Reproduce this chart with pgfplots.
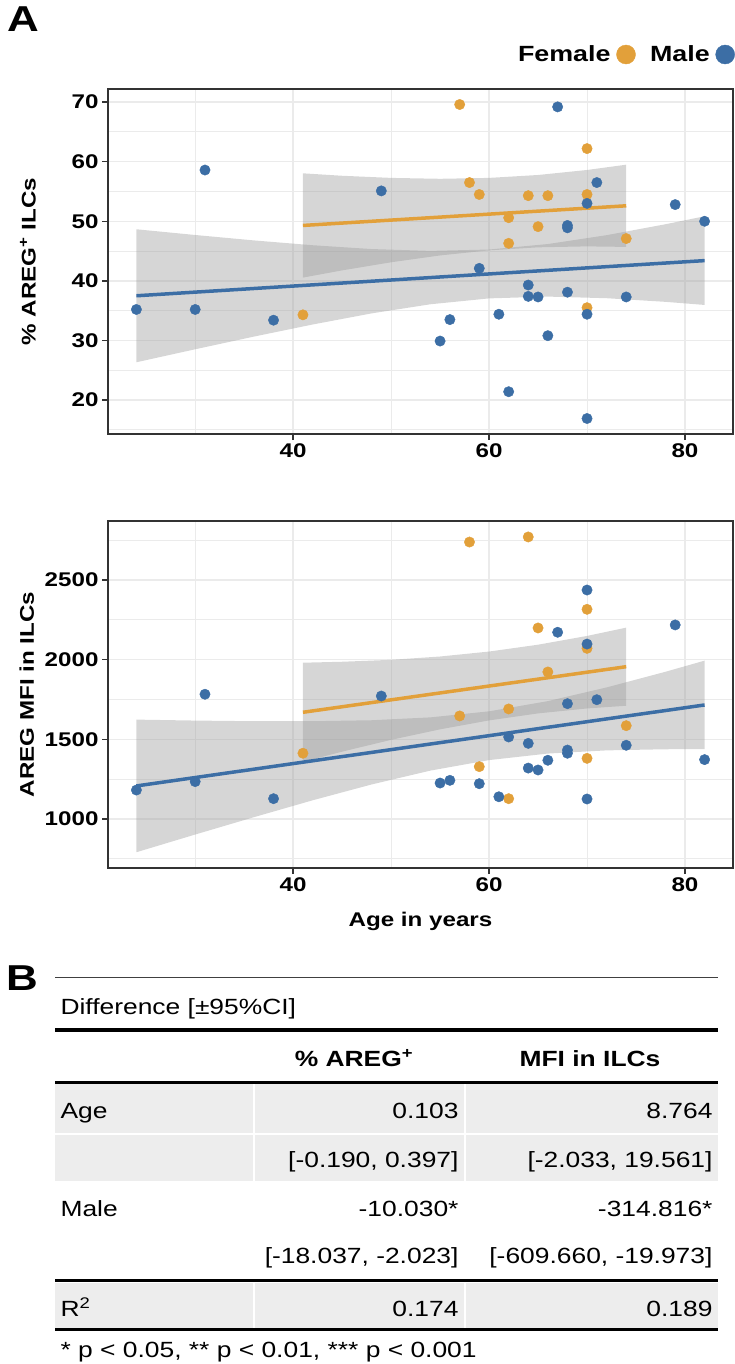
\documentclass[border=0pt]{standalone}
\usepackage{fontspec}
\setmainfont{Liberation Sans}[FakeStretch=1.2]
\newfontfamily\plotfont{Liberation Sans}[FakeStretch=1.22]
\usepackage{pgfplots}
\pgfplotsset{compat=1.18}
\definecolor{fem}{RGB}{226,160,58}
\definecolor{mal}{RGB}{60,110,165}
\definecolor{rib}{HTML}{999999}
\definecolor{gridc}{HTML}{EBEBEB}
\definecolor{framec}{HTML}{333333}
\definecolor{tgrey}{HTML}{EDEDED}
\newcommand{\pf}{\plotfont\bfseries\fontsize{19.8bp}{22bp}\selectfont}
\newcommand{\tf}{\fontsize{22bp}{26bp}\selectfont}

\pgfplotsset{
 panel/.style={
  width=625bp, scale only axis,
  xmin=21.1, xmax=84.9,
  xtick={40,60,80}, minor xtick={30,50,70},
  grid=both,
  major grid style={draw=gridc, line width=1.4bp},
  minor grid style={draw=gridc, line width=0.9bp},
  axis line style={draw=framec, line width=1.6bp},
  tick align=outside, tick pos=left,
  major tick length=6bp, minor tick length=0bp,
  tick style={draw=framec, line width=1.4bp},
  tick label style={font=\pf},
  label style={font=\pf},
  /pgf/number format/assume math mode=true,
  /pgf/number format/1000 sep={},
 },
 pts/.style={only marks, mark=*, mark size=5.2bp, color=#1, mark options={draw=none, fill=#1},
   legend image code/.code={\path[draw=none, fill=none] (0bp,0bp) -- (16bp,0bp); \draw[##1, mark size=9.5bp] plot coordinates {(13bp,0bp)};}},
 ribb/.style={draw=none, fill=rib, fill opacity=0.4, forget plot},
 fitl/.style={draw=#1, line width=3.5bp, no marks, forget plot},
}

\begin{document}
\begin{tikzpicture}
\path[use as bounding box] (0,0) rectangle (735bp,-1364bp);

\node[font=\plotfont\bfseries\fontsize{36bp}{40bp}\selectfont] at (23bp,-19bp) {A};

% ---------- top panel ----------
\begin{axis}[panel, at={(108bp,-434bp)}, anchor=south west, height=345bp,
  ymin=14.3, ymax=72.2, ytick={20,30,...,70}, minor ytick={15,25,...,65},
  ylabel={\% AREG\textsuperscript{+} ILCs},
  ylabel style={at={(axis description cs:-0.128,0.5)}, anchor=center},
  legend plot pos=right,
  legend style={at={(axis description cs:1.003,1.10)}, anchor=east, draw=none, fill=none,
    inner sep=0pt, font=\plotfont\bfseries\fontsize{22bp}{26bp}\selectfont, legend columns=2,
    /tikz/every even column/.append style={column sep=12bp}, nodes={inner sep=2.5bp}},
]
\addplot[pts=fem] coordinates {(41,34.3) (57,69.6) (58,56.5) (59,54.5) (62,50.6) (62,46.3) (64,54.3) (65,49.1) (66,54.3) (70,62.2) (70,54.5) (70,35.5) (74,47.1)};
\addlegendentry{Female}
\addplot[pts=mal] coordinates {(24,35.2) (30,35.2) (31,58.6) (38,33.4) (49,55.1) (55,29.9) (56,33.5) (59,42.1) (61,34.4) (62,21.4) (64,39.3) (64,37.4) (65,37.3) (66,30.8) (67,69.2) (68,49.3) (68,48.9) (68,38.1) (70,53.0) (70,34.4) (70,16.9) (71,56.5) (74,37.3) (79,52.8) (82,50.0)};
\addlegendentry{Male}
\addplot[ribb] coordinates {(41,58.05) (45,57.64) (50,57.28) (55,57.13) (60,57.28) (65,57.77) (70,58.61) (74,59.50) (74,45.70) (70,45.79) (65,45.63) (60,45.12) (55,44.27) (50,43.12) (45,41.76) (41,40.55)} -- cycle;
\addplot[fitl=fem] coordinates {(41,49.3) (74,52.6)};
\addplot[ribb] coordinates {(24,48.66) (30,47.70) (36,46.79) (42,45.98) (48,45.34) (54,45.03) (60,45.26) (66,46.18) (72,47.67) (78,49.50) (82,50.84) (82,35.96) (78,36.48) (72,37.09) (66,37.36) (60,37.06) (54,36.07) (48,34.54) (42,32.68) (36,30.65) (30,28.52) (24,26.34)} -- cycle;
\addplot[fitl=mal] coordinates {(24,37.5) (82,43.4)};
\end{axis}

% ---------- bottom panel ----------
\begin{axis}[panel, at={(108bp,-868bp)}, anchor=south west, height=347bp,
  ymin=693, ymax=2870, ytick={1000,1500,2000,2500}, minor ytick={750,1250,1750,2250,2750},
  xlabel={Age in years},
  xlabel style={at={(axis description cs:0.5,-0.155)}, anchor=center},
  ylabel={AREG MFI in ILCs},
  ylabel style={at={(axis description cs:-0.13,0.5)}, anchor=center},
]
\addplot[pts=fem] coordinates {(41,1413) (57,1647) (58,2738) (59,1329) (62,1691) (62,1128) (64,2770) (65,2199) (66,1923) (70,2316) (70,2071) (70,1381) (74,1586)};
\addplot[pts=mal] coordinates {(24,1182) (30,1235) (31,1783) (38,1128) (49,1772) (55,1226) (56,1243) (59,1222) (61,1140) (62,1515) (64,1475) (64,1320) (65,1308) (66,1369) (67,2172) (68,1724) (68,1433) (68,1413) (70,2437) (70,2098) (70,1126) (71,1749) (74,1463) (79,2218) (82,1373)};
\addplot[ribb] coordinates {(41,1981) (45,1987) (50,1999) (55,2020) (60,2051) (65,2094) (70,2149) (74,2201) (74,1711) (70,1694) (65,1663) (60,1619) (55,1563) (50,1497) (45,1423) (41,1359)} -- cycle;
\addplot[fitl=fem] coordinates {(41,1670) (74,1956)};
\addplot[ribb] coordinates {(24,1624) (30,1618) (36,1614) (42,1614) (48,1620) (54,1638) (60,1676) (66,1740) (72,1826) (78,1924) (82,1994) (82,1439) (78,1438) (72,1431) (66,1411) (60,1370) (54,1304) (48,1217) (42,1118) (36,1012) (30,903) (24,792)} -- cycle;
\addplot[fitl=mal] coordinates {(24,1208) (82,1716)};
\end{axis}

% ---------- table B ----------
\node[font=\plotfont\bfseries\fontsize{36bp}{40bp}\selectfont] at (22bp,-978bp) {B};
\draw[line width=1bp, black!75] (55bp,-977.5bp) -- (718bp,-977.5bp);
\node[anchor=base west, font=\tf] at (57bp,-1014.5bp) {Difference [±95\%CI]};
\draw[line width=4bp] (55bp,-1030bp) -- (718bp,-1030bp);
\node[anchor=base, font=\bfseries\tf] at (354bp,-1066bp) {\% AREG\textsuperscript{+}};
\node[anchor=base, font=\bfseries\tf] at (590bp,-1066bp) {MFI in ILCs};
\draw[line width=3bp] (55bp,-1082.5bp) -- (718bp,-1082.5bp);
\fill[tgrey] (55bp,-1084bp) rectangle (718bp,-1132.5bp);
\fill[tgrey] (55bp,-1134.5bp) rectangle (718bp,-1180.5bp);
\draw[white, line width=2.5bp] (254bp,-1084bp) -- (254bp,-1180.5bp);
\draw[white, line width=2.5bp] (465bp,-1084bp) -- (465bp,-1180.5bp);
\node[anchor=base west, font=\tf] at (57bp,-1118bp) {Age};
\node[anchor=base east, font=\tf] at (462bp,-1118bp) {0.103};
\node[anchor=base east, font=\tf] at (716bp,-1118bp) {8.764};
\node[anchor=base east, font=\tf] at (462bp,-1167bp) {[-0.190, 0.397]};
\node[anchor=base east, font=\tf] at (716bp,-1167bp) {[-2.033, 19.561]};
\node[anchor=base west, font=\tf] at (57bp,-1216bp) {Male};
\node[anchor=base east, font=\tf] at (462bp,-1216bp) {-10.030*};
\node[anchor=base east, font=\tf] at (716bp,-1216bp) {-314.816*};
\node[anchor=base east, font=\tf] at (462bp,-1263bp) {[-18.037, -2.023]};
\node[anchor=base east, font=\tf] at (716bp,-1263bp) {[-609.660, -19.973]};
\draw[line width=3.5bp] (55bp,-1280.7bp) -- (718bp,-1280.7bp);
\fill[tgrey] (55bp,-1282.5bp) rectangle (718bp,-1328bp);
\draw[white, line width=2.5bp] (254bp,-1282.5bp) -- (254bp,-1328bp);
\draw[white, line width=2.5bp] (465bp,-1282.5bp) -- (465bp,-1328bp);
\node[anchor=base west, font=\tf] at (57bp,-1316bp) {R\textsuperscript{2}};
\node[anchor=base east, font=\tf] at (462bp,-1316bp) {0.174};
\node[anchor=base east, font=\tf] at (716bp,-1316bp) {0.189};
\draw[line width=3bp] (55bp,-1329.5bp) -- (718bp,-1329.5bp);
\node[anchor=base west, font=\tf] at (57bp,-1357bp) {* p < 0.05, ** p < 0.01, *** p < 0.001};
\end{tikzpicture}
\end{document}
